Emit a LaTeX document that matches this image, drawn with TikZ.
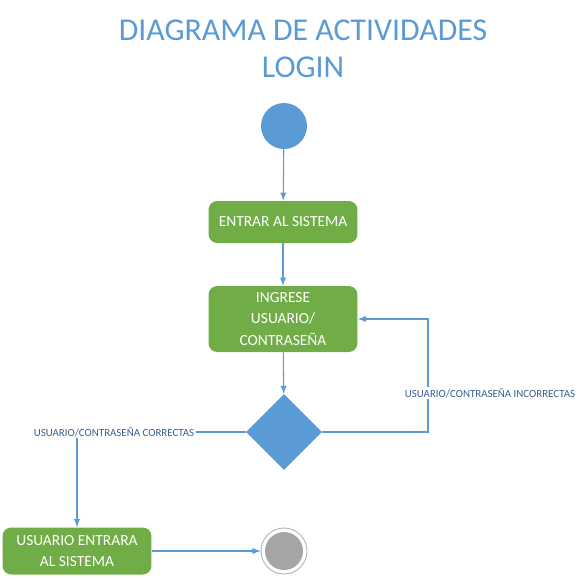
\documentclass[tikz,border=0pt]{standalone}
\usepackage{fontspec}
\setmainfont{Carlito}
\usetikzlibrary{positioning, arrows, shapes.geometric, calc}
\definecolor{titleBlue}{HTML}{5B9BD5}
\definecolor{actGreen}{HTML}{70AD47}
\definecolor{endGray}{HTML}{A5A5A5}
\definecolor{guardBlue}{HTML}{3A5F8F}

\begin{document}
\begin{tikzpicture}[x=0.02cm, y=-0.02cm,
	activity/.style={fill=actGreen, rounded corners=5pt, text=white, align=center,
		minimum width=2.98cm, inner sep=0pt,
		font=\fontsize{8.8}{12}\selectfont},
	flow/.style={draw=titleBlue, line width=0.6pt, -latex},
	guard/.style={fill=white, text=guardBlue, inner sep=1pt,
		font=\fontsize{6.2}{7}\selectfont}]
	
	\useasboundingbox (0,0) rectangle (580,579);
	
	%Title
	\node (title) at (303,49) [text=titleBlue, align=center,
	font=\fontsize{18.1}{21}\selectfont]{DIAGRAMA DE ACTIVIDADES\\ LOGIN};
	
	%Initial state
	\node (start) at (284,126) [circle, fill=titleBlue, minimum size=0.92cm, inner sep=0pt]{};
	
	%Enter the system
	\node (enter) at (283,222) [activity, minimum height=0.84cm]{ENTRAR AL SISTEMA};
	
	%User and password
	\node (input) at (283,319) [activity, minimum height=1.32cm]{INGRESE\\ USUARIO/\\ CONTRASEÑA};
	
	%Decision
	\node (check) at (284,432) [diamond, fill=titleBlue, minimum width=1.52cm,
	minimum height=1.52cm, inner sep=0pt]{};
	
	%User enters
	\node (granted) at (77,551) [activity, minimum height=0.94cm]{USUARIO ENTRARA\\ AL SISTEMA};
	
	%Final state
	\node (stop) at (284,551) [circle, draw=gray!60, fill=white, line width=0.5pt,
	minimum size=0.92cm, inner sep=0pt]{};
	\node (stopDot) at (284,551) [circle, fill=endGray, minimum size=0.76cm, inner sep=0pt]{};
	
	%Links
	\coordinate (retry) at (428,432);
	\coordinate (pass) at (77,432);
	\draw[flow] (start) -- (enter);
	\draw[flow] (enter) -- (input);
	\draw[flow] (input) -- (check);
	\draw[flow] (check.east) -- (retry) |- (input.east);
	\draw[flow] (check.west) -- (pass) -- (granted.north);
	\draw[flow] (granted) -- (stop);
	
	%Guards
	\node (wrong) at (490,393) [guard]{USUARIO/CONTRASEÑA INCORRECTAS};
	\node (right) at (114,432) [guard]{USUARIO/CONTRASEÑA CORRECTAS};
	
\end{tikzpicture}
\end{document}
